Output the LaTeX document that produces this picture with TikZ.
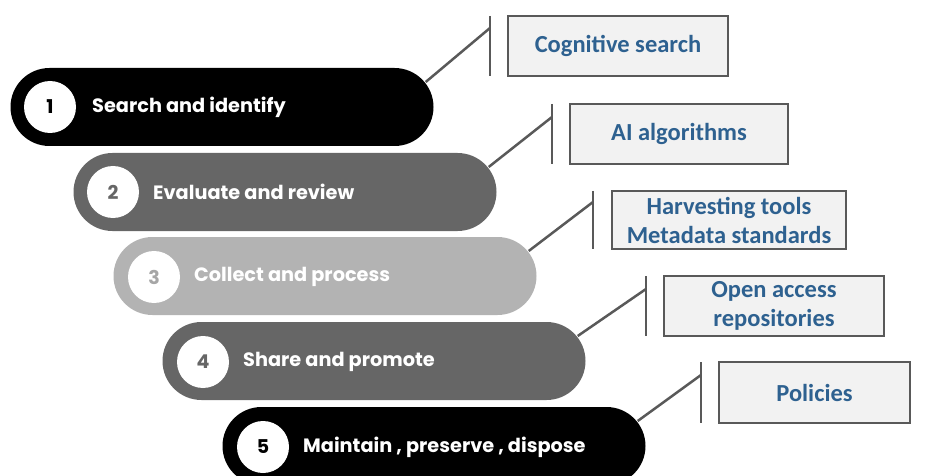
\documentclass[tikz,border=0pt]{standalone}
\usepackage{fontspec}
\newfontfamily\popfont{Poppins}
\newfontfamily\carlfont{Carlito}
\usetikzlibrary{shapes.misc,calc}
\definecolor{dgray}{HTML}{666666}
\definecolor{lgray}{HTML}{B3B3B3}
\definecolor{lgraytxt}{HTML}{A6A6A6}
\definecolor{linegray}{HTML}{595959}
\definecolor{boxfill}{HTML}{F2F2F2}
\definecolor{boxblue}{HTML}{2E6190}
\tikzset{
  pill/.style={rounded rectangle, minimum width=423pt, minimum height=78pt, inner sep=0pt, draw=none},
  numcirc/.style={circle, fill=white, minimum size=52pt, inner sep=0pt, font=\popfont\bfseries\fontsize{19}{22}\selectfont},
  pilltext/.style={anchor=west, inner sep=0pt, text=white, font=\popfont\bfseries\fontsize{19.3}{22}\selectfont},
  infobox/.style={draw=linegray, line width=2.5pt, fill=boxfill, inner sep=0pt, align=center, text=boxblue, font=\carlfont\bfseries\fontsize{24.5}{29}\selectfont},
  conn/.style={draw=linegray, line width=2.5pt}
}
\begin{document}
\begin{tikzpicture}[x=1pt,y=-1pt]
\useasboundingbox (0,0) rectangle (927,476);
\clip (0,0) rectangle (927,476);
% pills
\node[pill, fill=black] (p1) at (222,107) {};
\node[pill, fill=dgray] (p2) at (285,192) {};
\node[pill, fill=lgray] (p3) at (325,276) {};
\node[pill, fill=dgray] (p4) at (374,361) {};
\node[pill, fill=black] (p5) at (434,446) {};
% number circles
\node[numcirc, text=black] (c1) at (50,107) {1};
\node[numcirc, text=dgray] (c2) at (113,192) {2};
\node[numcirc, text=lgraytxt] (c3) at (154,277) {3};
\node[numcirc, text=dgray] (c4) at (203,362) {4};
\node[numcirc, text=black] (c5) at (263,447) {5};
% pill texts
\node[pilltext] (t1) at (92,107) {Search and identify};
\node[pilltext] (t2) at (153,192) {Evaluate and review};
\node[pilltext] (t3) at (194,277) {Collect and process};
\node[pilltext] (t4) at (243,362) {Share and promote};
\node[pilltext] (t5) at (303,447) {Maintain , preserve , dispose};
% info boxes
\node[infobox, minimum width=220pt, minimum height=60pt] (b1) at (618,46) {Cognitive search};
\node[infobox, minimum width=218pt, minimum height=60pt] (b2) at (679,134) {AI algorithms};
\node[infobox, minimum width=234pt, minimum height=58pt] (b3) at (729,220) {Harvesting tools\\Metadata standards};
\node[infobox, minimum width=220pt, minimum height=60pt] (b4) at (774,306) {Open access\\repositories};
\node[infobox, minimum width=191pt, minimum height=61pt] (b5) at (814.5,392.5) {Policies};
% brackets
\coordinate (k1t) at (490,16);  \coordinate (k1b) at (490,76);  \coordinate (k1j) at (490,28);
\coordinate (k2t) at (552,104); \coordinate (k2b) at (552,164); \coordinate (k2j) at (552,117);
\coordinate (k3t) at (593,191); \coordinate (k3b) at (593,249); \coordinate (k3j) at (593,202);
\coordinate (k4t) at (646,276); \coordinate (k4b) at (646,336); \coordinate (k4j) at (646,289);
\coordinate (k5t) at (701,362); \coordinate (k5b) at (701,423); \coordinate (k5j) at (701,375);
\foreach \i in {1,...,5}{
  \draw[conn] (k\i t) -- (k\i b);
  \draw[conn] ($(p\i.east)+(-8,-25)$) -- (k\i j);
}
\end{tikzpicture}
\end{document}
